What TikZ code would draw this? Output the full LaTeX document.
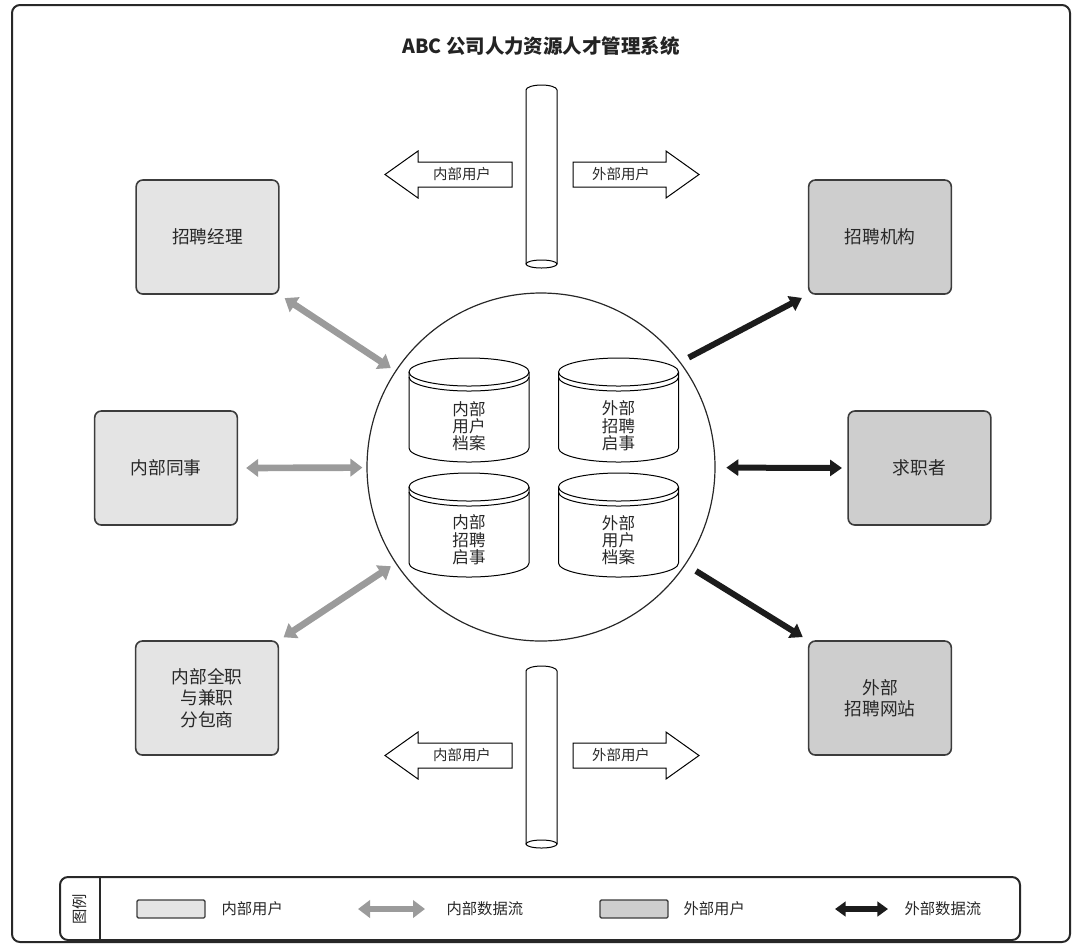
\documentclass[tikz,border=0pt]{standalone}
\usepackage{fontspec}
\setmainfont{Noto Sans CJK SC}
\usetikzlibrary{arrows.meta}

\tikzset{every picture/.style={line width=0.75pt}}
\tikzset{
  inuser/.style={draw={rgb,255:red,60;green,60;blue,60}, fill={rgb,255:red,228;green,228;blue,228}, line width=1.2pt, rounded corners=5pt, minimum width=107pt, minimum height=85.5pt, align=center, inner sep=0.75pt, font=\fontsize{13.3}{16}\selectfont, text={rgb,255:red,40;green,40;blue,40}},
  exuser/.style={inuser, fill={rgb,255:red,206;green,206;blue,206}},
  inflow/.style={draw={rgb,255:red,155;green,155;blue,155}, line width=5pt, {Triangle[length=9pt,width=13pt]}-{Triangle[length=9pt,width=13pt]}},
  exflow/.style={draw={rgb,255:red,28;green,28;blue,28}, line width=4.5pt},
  dbtext/.style={align=center, inner sep=0.75pt, font=\fontsize{12.4}{13}\selectfont, text={rgb,255:red,40;green,40;blue,40}},
  signtext/.style={inner sep=0.75pt, font=\fontsize{10.8}{12}\selectfont, text={rgb,255:red,40;green,40;blue,40}},
}

\begin{document}
\begin{tikzpicture}[x=0.75pt,y=0.75pt,yscale=-1,xscale=1]
\useasboundingbox (0,0) rectangle (1080,951);

%Shape: Rectangle [outer frame]
\draw [color={rgb, 255:red, 40; green, 40; blue, 40 }, line width=1.5pt, rounded corners=6pt] (12,5) rectangle (1070,942) ;

% Text Node
\node [font=\bfseries\fontsize{14.6}{16}\selectfont, text={rgb,255:red,35;green,35;blue,35}] (title) at (541,46) {ABC 公司人力资源人才管理系统};

%Shape: Circle [hub]
\node [circle, draw={rgb,255:red,40;green,40;blue,40}, line width=0.9pt, minimum size=261pt, inner sep=0pt] (hub) at (541,467) {};

%Shape: Can (top left)
\draw [fill=white] (409,372) -- (409,448) arc [start angle=180, end angle=0, x radius=60, y radius=14] -- (529,372) ;
\draw (469,372) ellipse [x radius=60, y radius=14] ;
\draw (409,377) arc [start angle=180, end angle=0, x radius=60, y radius=14] ;
%Shape: Can (top right)
\draw [fill=white] (558.5,372) -- (558.5,448) arc [start angle=180, end angle=0, x radius=60, y radius=14] -- (678.5,372) ;
\draw (618.5,372) ellipse [x radius=60, y radius=14] ;
\draw (558.5,377) arc [start angle=180, end angle=0, x radius=60, y radius=14] ;
%Shape: Can (bottom left)
\draw [fill=white] (409,487) -- (409,563) arc [start angle=180, end angle=0, x radius=60, y radius=14] -- (529,487) ;
\draw (469,487) ellipse [x radius=60, y radius=14] ;
\draw (409,492) arc [start angle=180, end angle=0, x radius=60, y radius=14] ;
%Shape: Can (bottom right)
\draw [fill=white] (558.5,487) -- (558.5,563) arc [start angle=180, end angle=0, x radius=60, y radius=14] -- (678.5,487) ;
\draw (618.5,487) ellipse [x radius=60, y radius=14] ;
\draw (558.5,492) arc [start angle=180, end angle=0, x radius=60, y radius=14] ;

% Text Node
\node [dbtext] (dbinuser) at (469,426) {内部\\用户\\档案};
\node [dbtext] (dbexpost) at (618.5,426) {外部\\招聘\\启事};
\node [dbtext] (dbinpost) at (469,540) {内部\\招聘\\启事};
\node [dbtext] (dbexuser) at (618.5,540) {外部\\用户\\档案};

%Shape: Pipe (top)
\draw (526,264) -- (526,90) arc [start angle=180, end angle=360, x radius=15.5, y radius=5] -- (557,264) ;
\draw (541.5,264) ellipse [x radius=15.5, y radius=4] ;
%Shape: Pipe (bottom)
\draw (526,844) -- (526,671) arc [start angle=180, end angle=360, x radius=15.5, y radius=5] -- (557,844) ;
\draw (541.5,844) ellipse [x radius=15.5, y radius=4] ;

%Shape: Block Arrow (top left)
\draw (385,174.5) -- (418,151) -- (418,162) -- (512,162) -- (512,187) -- (418,187) -- (418,198) -- cycle ;
%Shape: Block Arrow (top right)
\draw (699,174.5) -- (666,151) -- (666,162) -- (573,162) -- (573,187) -- (666,187) -- (666,198) -- cycle ;
%Shape: Block Arrow (bottom left)
\draw (385,755.5) -- (418,732) -- (418,743) -- (512,743) -- (512,768) -- (418,768) -- (418,779) -- cycle ;
%Shape: Block Arrow (bottom right)
\draw (699,755.5) -- (666,732) -- (666,743) -- (573,743) -- (573,768) -- (666,768) -- (666,779) -- cycle ;

% Text Node
\node [signtext] (topin) at (462,174.5) {内部用户};
\node [signtext] (topex) at (621,174.5) {外部用户};
\node [signtext] (botin) at (462,755.5) {内部用户};
\node [signtext] (botex) at (621,755.5) {外部用户};

%Shape: Rectangle [users]
\node [inuser] (manager) at (207.5,237) {招聘经理};
\node [inuser] (colleague) at (166,468) {内部同事};
\node [inuser] (contractor) at (207,698) {内部全职\\与兼职\\分包商};
\node [exuser] (agency) at (880,237) {招聘机构};
\node [exuser] (seeker) at (919.5,468) {求职者};
\node [exuser] (website) at (880,698) {外部\\招聘网站};

%Straight Lines [flows]
\draw [inflow, shorten <=4.5pt, shorten >=4pt] (manager.south east) -- (hub) ;
\draw [inflow, shorten <=6pt, shorten >=3pt] (colleague.east) -- (hub) ;
\draw [inflow, shorten <=4pt, shorten >=4pt] (contractor.north east) -- (hub) ;
\draw [exflow, -{Triangle[length=9pt,width=12pt]}, shorten <=7pt, shorten >=5pt] (hub.37) -- (agency.south west) ;
\draw [exflow, {Triangle[length=9pt,width=12pt]}-{Triangle[length=9pt,width=12pt]}, shorten <=8pt, shorten >=4pt] (hub) -- (seeker.west) ;
\draw [exflow, -{Triangle[length=9pt,width=12pt]}, shorten <=9pt, shorten >=4.5pt] (hub.-34) -- (website.north west) ;

%Shape: Rectangle [legend]
\draw [color={rgb, 255:red, 40; green, 40; blue, 40 }, line width=1.5pt, rounded corners=6pt] (60,877) rectangle (1020,940) ;
\draw [color={rgb, 255:red, 40; green, 40; blue, 40 }, line width=1pt] (100,877) -- (100,940) ;
\node [signtext, rotate=90, font=\fontsize{11.5}{12}\selectfont] (legendhead) at (80,909) {图例};

\node [inuser, minimum width=51pt, minimum height=13.5pt, rounded corners=1pt, line width=1pt] (keyin) at (171,909) {};
\node [signtext, anchor=west, font=\fontsize{11.5}{12}\selectfont] (keyintext) at (220,909) {内部用户};
\coordinate (keyinflowa) at (358,909);
\coordinate (keyinflowb) at (425,909);
\draw [inflow, line width=4pt] (keyinflowa) -- (keyinflowb) ;
\node [signtext, anchor=west, font=\fontsize{11.5}{12}\selectfont] (keyinflowtext) at (445,909) {内部数据流};
\node [exuser, minimum width=51pt, minimum height=13.5pt, rounded corners=1pt, line width=1pt] (keyex) at (634,909) {};
\node [signtext, anchor=west, font=\fontsize{11.5}{12}\selectfont] (keyextext) at (682,909) {外部用户};
\coordinate (keyexflowa) at (835,909);
\coordinate (keyexflowb) at (888,909);
\draw [exflow, line width=4pt, {Triangle[length=8pt,width=11pt]}-{Triangle[length=8pt,width=11pt]}] (keyexflowa) -- (keyexflowb) ;
\node [signtext, anchor=west, font=\fontsize{11.5}{12}\selectfont] (keyexflowtext) at (903,909) {外部数据流};

\end{tikzpicture}
\end{document}
